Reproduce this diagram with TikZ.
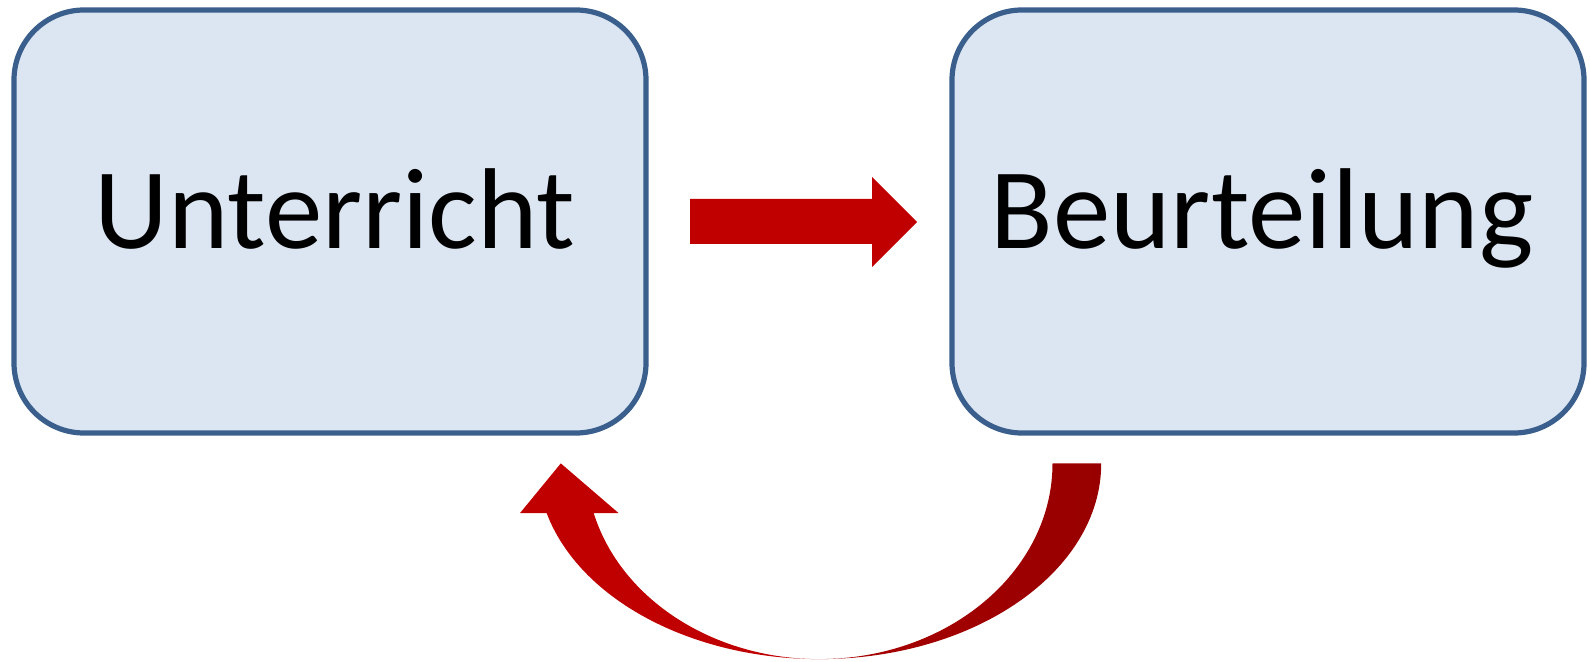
\documentclass[tikz,border=0pt]{standalone}
\usepackage{fontspec}
\setmainfont{Carlito}
\definecolor{boxfill}{HTML}{DCE6F2}
\definecolor{boxline}{HTML}{3A5F8C}
\definecolor{arrred}{HTML}{C00000}
\definecolor{arrdark}{HTML}{980000}
\definecolor{arrmid}{HTML}{A80000}
\begin{document}
\begin{tikzpicture}[x=0.5pt,y=-0.5pt,
  stagebox/.style={draw=boxline, fill=boxfill, line width=2.6pt, rounded corners=35pt,
    minimum width=316pt, minimum height=211.5pt, inner sep=0pt,
    font=\fontsize{57.5}{62}\selectfont, text height=40pt, text depth=13pt},
  blockarrow/.style={fill=arrred, draw=none}]
\useasboundingbox (0,0) rectangle (1590,662);
\node[stagebox] (u) at (330,221.5) {\hspace*{5pt}Unterricht};
\node[stagebox] (b) at (1268,221.5) {Beurteilung\hspace*{6pt}};
% straight block arrow between the boxes
\fill[blockarrow] (690,199) -- (872,199) -- (872,177) -- (917,222) -- (872,267) -- (872,244) -- (690,244) -- cycle;
% curved return arrow: right half (tail)
\shade[left color=arrmid, right color=arrdark] (1101.2,463.4)
  arc[start angle=0, end angle=90, x radius=281.9, y radius=195.7]
  arc[start angle=90, end angle=0, x radius=233.2, y radius=195.7] -- cycle;
% curved return arrow: left half (head)
\fill[blockarrow] (819.3,659.1)
  arc[start angle=90, end angle=165.3, x radius=281.9, y radius=195.7]
  -- (520,513.1) -- (560.8,463.4) -- (618.6,513.1) -- (593.7,513.1)
  arc[start angle=165.3, end angle=90, x radius=233.2, y radius=195.7] -- cycle;
\end{tikzpicture}
\end{document}
